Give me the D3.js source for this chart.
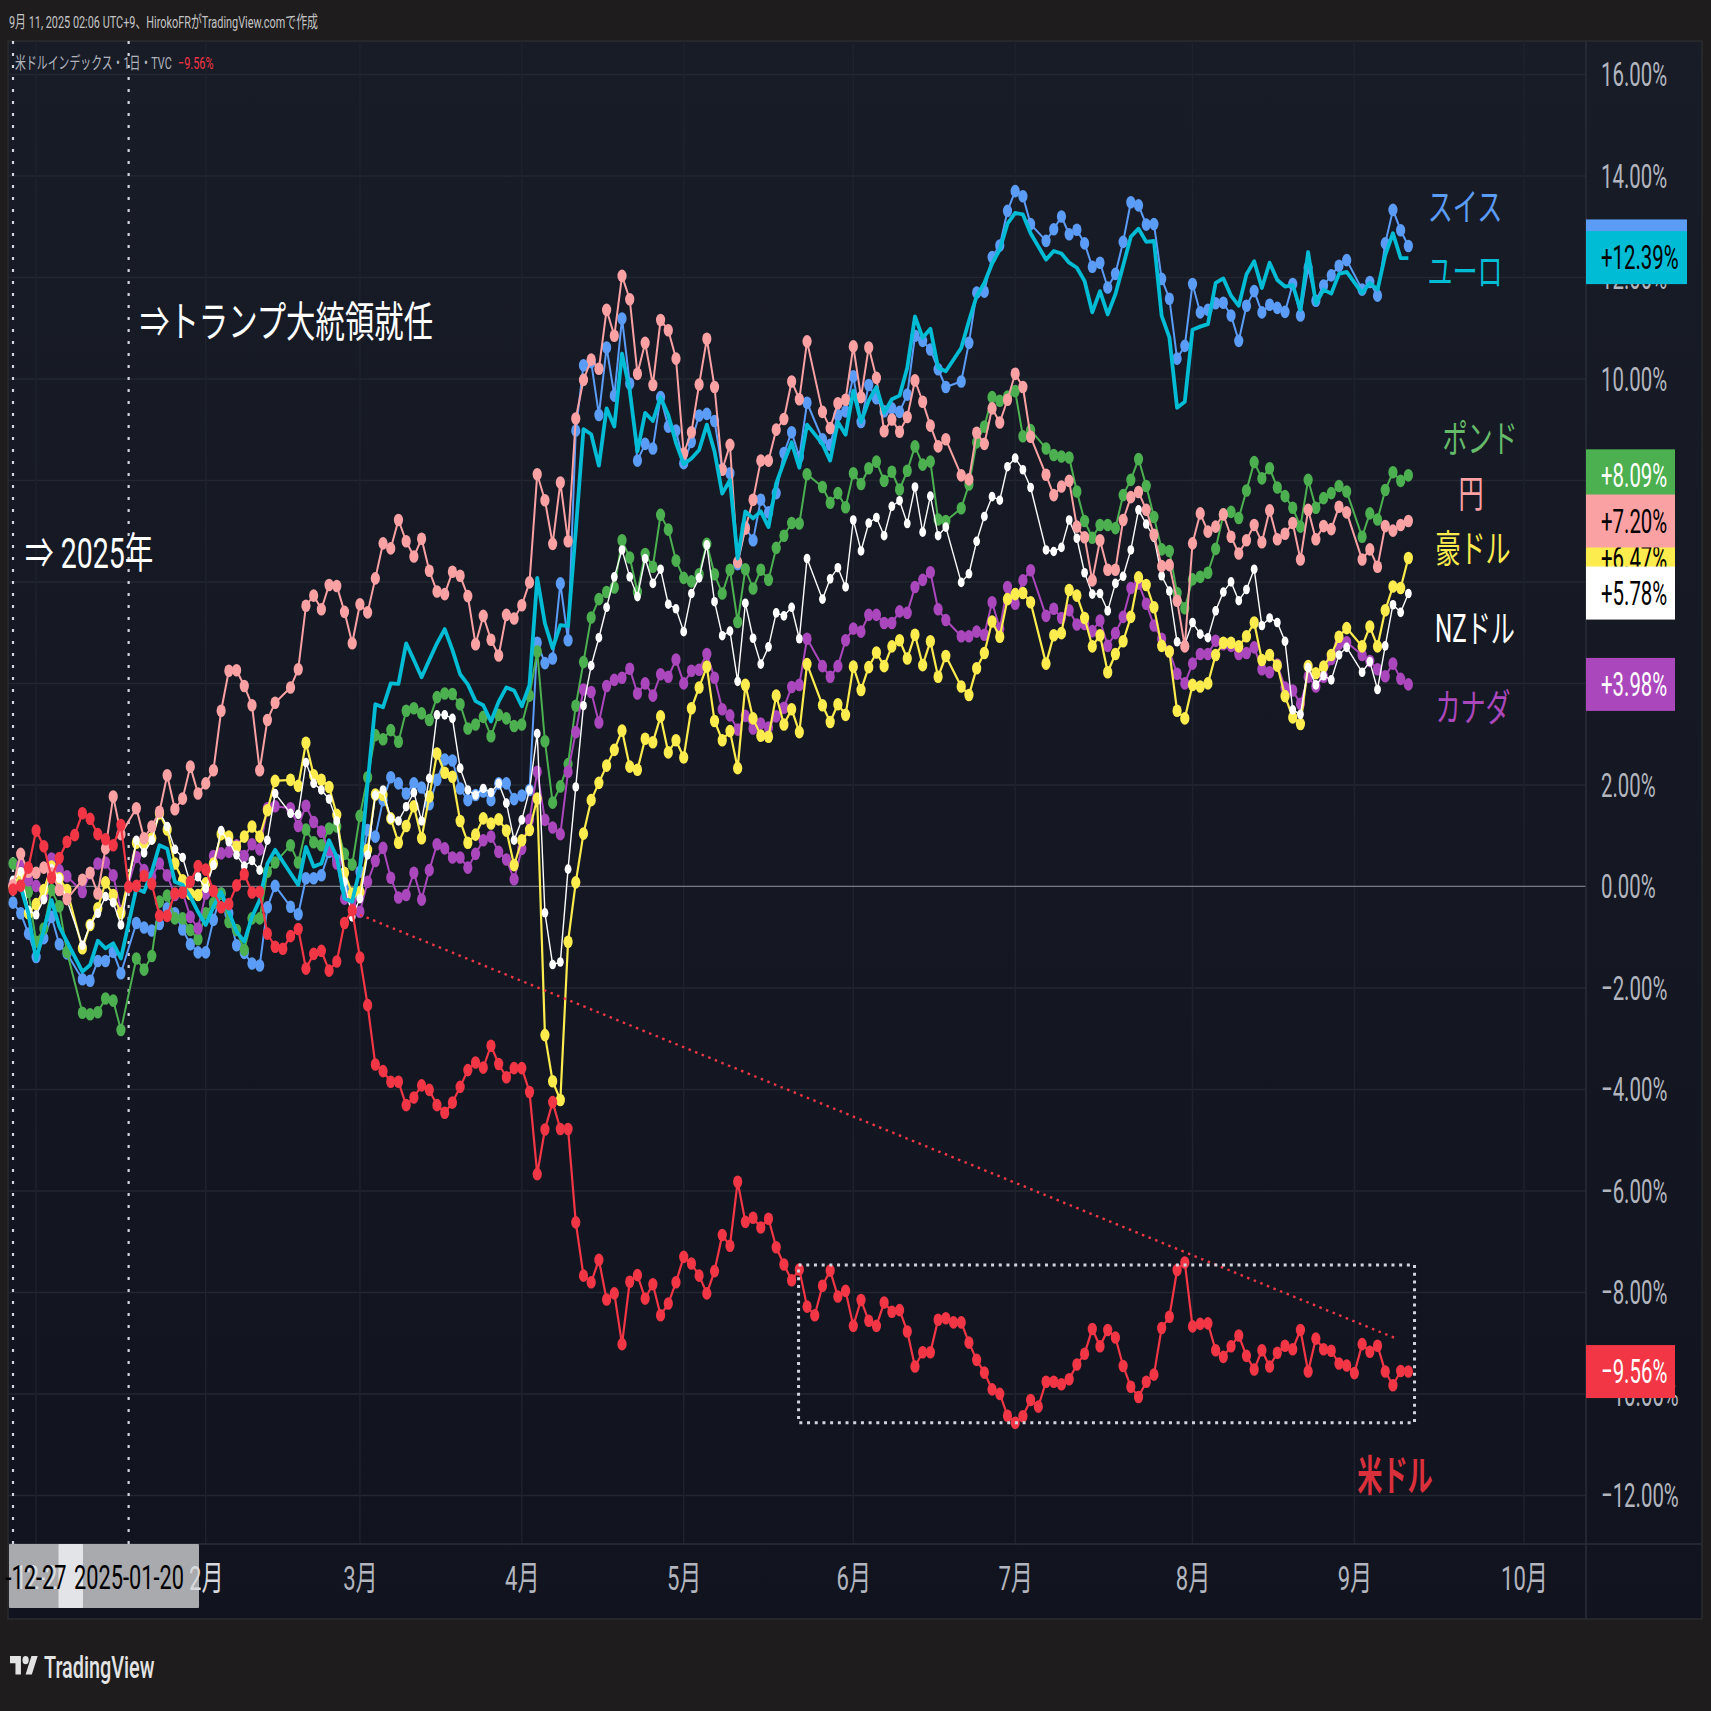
<!DOCTYPE html>
<html>
<head>
<meta charset="utf-8">
<script src="https://cdn.jsdelivr.net/npm/d3@7"></script>
<style>
  body { margin: 0; background: #1e1c1d; }
  text { font-family: Roboto, "Noto Sans CJK JP", sans-serif; }
</style>
<title>米ドルインデックス</title>
</head>
<body>
<div id="chart"></div>
<script>
// percent change per trading day, null = no bar that day
var usd = [-0.06,0.01,0.37,1.10,0.79,0.17,0.56,0.88,1.01,1.44,
1.33,1.03,0.93,0.81,1.21,-0.01,0.01,0.21,0.05,-0.58,
-0.58,-0.14,-0.12,0.09,0.40,0.33,-0.09,-0.41,-0.35,0.02,
0.24,-0.12,-0.11,-0.93,-1.19,-1.23,-0.98,-0.84,-1.62,-1.33,
-1.27,-1.66,-1.48,-0.72,-0.47,-1.40,-2.34,-3.51,-3.64,-3.85,
-3.85,-4.31,-4.16,-3.92,-4.01,-4.31,-4.46,-4.26,-3.95,-3.62,
-3.47,-3.57,-3.14,-3.50,-3.76,-3.58,-3.58,-4.05,-5.67,-4.79,
-4.25,-4.78,-4.78,-6.62,-7.67,-7.80,-7.36,-8.14,-8.02,-9.02,
-7.79,-7.66,-8.12,-7.84,-8.45,-8.22,-7.80,-7.30,-7.43,-7.67,
-8.02,-7.58,-6.87,-7.08,-5.82,-6.61,-6.53,-6.72,-6.55,-7.11,
-7.45,-7.76,-7.55,-8.28,-8.45,-7.87,-7.57,-8.08,-7.97,-8.66,
-8.15,-8.56,-8.66,-8.20,-8.38,-8.35,-8.77,-9.46,-9.18,-9.18,
-8.54,-8.51,-8.59,-8.59,-8.99,-9.33,-9.58,-9.91,-10.00,-10.43,
-10.57,-10.44,-10.12,-10.25,-9.76,-9.76,-9.81,-9.71,-9.42,-9.21,
-8.72,-9.06,-8.74,-8.89,-9.45,-9.86,-10.06,-9.76,-9.62,-8.70,
-8.48,-7.56,-7.41,-8.67,-8.62,-8.61,-9.14,-9.27,-9.06,-8.85,
-9.25,-9.52,-9.14,-9.46,-9.19,-9.05,-9.12,-8.74,-9.56,-8.91,
-9.12,-9.15,-9.40,-9.44,-9.59,-9.02,-9.17,-9.05,-9.56,-9.83,
-9.55,-9.56];

var jpy = [0.02,0.64,0.29,0.27,0.37,0.26,-0.07,-0.25,null,0.13,
0.27,-0.14,0.75,1.77,1.03,null,1.54,0.95,1.18,1.47,
2.19,1.52,1.73,2.36,1.83,2.03,2.29,3.46,4.25,4.26,
3.95,3.57,2.29,3.28,3.62,null,3.92,4.28,5.53,5.73,
5.46,5.94,5.92,5.41,4.79,5.56,5.40,6.07,6.76,6.66,
7.22,6.80,6.50,6.85,6.22,5.81,5.76,6.20,6.12,5.72,
4.77,5.33,4.86,4.55,5.35,5.28,5.54,5.99,8.12,7.61,
6.75,7.96,6.80,9.22,9.98,10.38,10.20,11.36,10.85,12.03,
11.57,10.10,10.71,9.88,11.16,10.96,10.40,8.53,8.95,9.89,
10.79,9.84,8.21,8.70,6.39,7.05,7.62,8.39,8.39,9.00,
9.21,9.95,9.60,10.74,null,9.35,9.03,9.52,9.59,10.64,
9.64,10.62,10.02,8.97,9.20,8.96,9.25,9.97,9.55,9.08,
8.67,8.81,null,8.10,8.02,8.94,8.72,9.42,9.14,9.59,
10.10,9.84,8.86,null,8.11,7.71,7.88,7.99,7.09,6.88,
6.03,6.82,6.24,6.24,7.22,7.67,7.77,7.42,6.93,6.31,
6.33,5.63,4.73,6.76,7.35,6.99,7.09,7.33,6.89,6.56,
6.82,7.12,6.78,7.41,6.84,6.95,7.16,6.44,7.42,6.84,
7.10,7.04,7.48,7.37,null,6.44,6.64,6.30,7.10,7.01,
7.12,7.20];

var chf = [-0.32,-0.53,-0.93,-1.39,-1.02,-0.60,-1.14,-1.32,null,-1.83,
-1.86,-1.47,-1.47,-1.29,-1.71,null,-0.72,-0.81,-0.87,-0.74,
-0.43,-0.53,-0.85,-1.14,-1.30,-1.30,-0.66,-0.14,-0.53,-1.16,
-1.31,-1.52,-1.56,-0.41,0.01,null,-0.40,-0.55,0.16,0.16,
0.22,0.68,0.52,-0.01,-0.20,0.29,1.11,0.98,1.70,2.15,
2.03,1.83,2.03,1.95,1.62,2.10,2.50,2.48,1.93,1.70,
1.80,1.87,1.70,2.03,2.03,1.72,1.79,1.90,4.80,4.40,
4.49,5.97,4.85,8.98,10.27,10.33,9.29,10.62,9.67,11.19,
9.91,8.39,8.72,8.63,9.64,9.06,8.98,8.34,8.76,9.28,
9.31,9.17,8.22,8.14,6.35,7.08,6.82,7.62,7.37,7.75,
8.54,8.95,8.46,9.53,null,8.81,8.70,9.29,9.36,10.05,
9.15,9.88,9.62,9.36,9.42,9.35,9.69,10.85,10.75,10.58,
10.19,9.84,null,9.95,10.71,11.70,11.72,12.40,12.63,13.31,
13.70,13.60,13.05,null,12.72,12.95,13.20,12.85,12.94,12.67,
12.21,12.29,11.80,12.07,12.70,13.48,13.42,13.04,13.05,11.97,
11.58,10.40,10.65,11.87,11.31,11.36,11.49,11.50,11.25,10.75,
11.44,11.73,11.31,11.46,11.40,11.32,11.87,11.25,12.19,11.54,
11.84,12.04,12.23,12.34,null,11.76,11.91,11.64,12.67,13.33,
12.93,12.62];

var eur = [-0.05,-0.01,-0.53,-1.45,-0.86,-0.27,-0.79,-1.09,null,-1.68,
-1.55,-1.07,-1.22,-1.12,-1.42,null,-0.04,-0.11,0.29,0.81,
0.74,0.09,0.03,-0.20,-0.50,-0.76,-0.40,-0.11,-0.50,-0.89,
-1.09,-0.60,-0.27,0.45,0.72,null,0.26,0.03,0.78,0.39,
0.45,0.91,0.58,-0.24,-0.30,0.35,2.03,3.59,3.53,4.00,
3.99,4.79,4.46,4.12,4.46,4.79,5.07,4.66,4.18,3.98,
3.65,3.57,3.25,3.64,3.92,3.86,3.55,3.97,6.08,5.18,
4.69,5.15,5.13,7.01,9.01,8.91,8.29,9.42,9.06,10.50,
9.77,8.57,9.33,9.17,9.64,9.29,8.74,8.32,8.43,8.60,
9.10,8.57,7.74,8.01,6.46,7.39,7.25,7.39,7.08,7.94,
8.36,8.75,8.25,9.10,null,8.72,8.39,9.15,8.90,9.77,
9.15,9.57,9.84,9.33,9.60,9.67,10.22,11.23,10.81,10.99,
10.22,10.15,null,10.61,11.14,11.63,11.89,12.27,12.55,13.06,
13.27,13.24,12.87,null,12.35,12.52,12.47,12.29,12.19,11.93,
11.31,11.73,11.27,11.67,12.23,12.80,12.96,12.70,12.72,11.24,
10.82,9.43,9.55,10.97,11.03,11.08,11.89,11.98,11.64,11.44,
12.06,12.32,11.79,12.29,11.95,11.82,11.85,11.36,12.50,11.48,
11.76,11.68,12.07,12.11,null,11.69,11.89,11.76,12.44,12.87,
12.38,12.38];

var gbp = [0.45,0.19,-0.11,-1.09,-0.83,-0.07,-0.39,-1.29,null,-2.49,
-2.52,-2.48,-2.21,-2.25,-2.83,null,-1.42,-1.64,-1.37,-0.30,
-0.18,-0.63,-0.63,-0.86,-1.04,-0.53,-0.33,-0.14,-0.70,-0.86,
-1.25,-0.63,-0.63,0.29,0.47,null,0.81,0.47,1.12,0.87,
0.81,1.14,1.18,0.64,0.43,1.39,2.15,2.98,2.90,3.08,
2.85,3.46,3.51,3.41,3.28,3.73,3.80,3.79,3.59,3.11,
3.19,3.34,2.96,3.38,3.31,3.16,3.19,3.76,4.63,2.86,
1.65,1.97,2.41,3.56,4.42,5.30,5.66,5.80,5.89,6.82,
6.48,5.80,6.55,6.30,7.32,7.03,6.42,6.08,6.01,6.15,
6.75,6.15,5.77,6.24,5.21,6.25,5.87,6.24,6.04,6.67,
6.91,7.16,7.15,8.12,null,7.87,7.56,7.75,7.47,8.14,
7.93,8.24,8.37,7.99,8.17,7.82,8.19,8.67,8.31,8.37,
7.23,7.20,null,7.45,7.92,8.75,9.06,9.64,9.57,9.65,
9.76,8.87,8.99,null,8.63,8.50,8.47,8.45,7.78,7.20,
6.87,7.12,7.12,7.06,7.71,8.01,8.42,7.89,7.28,6.64,
6.61,5.78,5.48,6.05,6.10,6.18,6.65,7.33,7.38,7.26,
7.80,8.36,8.04,8.24,7.86,7.69,7.46,7.09,8.01,7.46,
7.65,7.75,7.89,7.78,null,6.89,7.35,7.23,7.81,8.16,
7.99,8.10];

var aud = [-0.01,0.26,-0.53,-0.35,-0.07,0.39,0.16,-0.07,null,-1.22,
-0.76,-0.43,0.08,-0.17,-0.53,null,0.86,0.85,0.95,1.44,
1.12,0.45,0.12,-0.15,-0.17,0.06,0.45,1.03,0.98,0.78,
0.98,1.18,0.98,1.50,2.08,null,2.10,1.98,2.83,2.19,
2.10,1.96,1.41,0.27,-0.14,-0.11,0.72,1.81,1.80,1.34,
0.86,1.19,1.58,0.95,1.77,2.62,2.24,2.16,1.29,0.86,
1.02,1.34,1.24,1.32,1.10,0.42,0.91,1.11,1.73,-2.93,
-3.84,-4.21,-1.09,0.08,1.04,1.70,2.04,2.38,2.69,3.07,
2.36,2.30,2.91,2.84,3.35,2.64,2.88,2.54,3.51,3.92,
4.33,3.26,2.88,3.06,2.33,3.97,3.31,2.97,2.95,3.76,
3.19,3.49,3.04,4.38,null,3.57,3.24,3.59,3.38,4.33,
3.87,4.32,4.61,4.34,4.73,4.85,4.49,4.96,4.36,4.83,
4.13,4.54,null,3.94,3.77,4.30,4.60,5.22,4.92,5.66,
5.76,5.78,5.60,null,4.39,4.95,4.99,5.84,5.73,5.29,
4.73,4.95,4.22,4.58,4.83,5.31,6.09,5.94,5.50,4.74,
4.63,3.46,3.31,3.97,3.94,4.00,4.56,4.80,4.80,4.73,
4.93,5.20,4.46,4.56,4.35,3.75,3.33,3.20,4.34,4.20,
4.33,4.56,4.92,5.09,null,4.73,5.12,4.73,5.44,5.91,
5.88,6.47];

var nzd = [0.12,0.29,-0.47,-0.56,-0.26,0.35,0.16,-0.27,null,-1.16,
-0.76,-0.53,-0.20,-0.32,-0.76,null,0.91,0.66,0.91,1.47,
1.18,0.73,0.57,0.06,0.19,-0.04,0.42,1.10,0.88,0.62,
0.40,0.51,0.32,0.91,1.83,null,1.44,1.42,2.44,2.03,
1.90,1.72,1.29,0.09,-0.60,-0.24,0.62,1.80,1.90,1.34,
1.29,1.57,1.85,1.29,2.13,3.38,3.38,3.31,2.33,1.90,
1.80,1.93,1.85,2.03,1.64,0.91,1.31,1.90,3.01,-0.52,
-1.54,-1.49,0.34,1.96,3.56,4.35,4.90,5.50,6.10,6.63,
6.10,5.71,6.46,5.97,6.25,5.56,5.47,5.02,5.77,6.08,
6.73,5.61,4.94,5.03,4.04,5.58,4.89,4.38,4.72,5.39,
5.33,5.50,4.88,6.46,null,5.66,6.06,6.28,5.90,7.22,
6.61,7.16,7.27,6.91,7.49,7.60,7.15,7.87,6.98,7.69,
6.91,7.08,null,5.99,6.16,6.80,7.29,7.68,7.61,8.27,
8.44,8.21,7.86,null,6.63,6.60,6.68,7.22,6.86,6.18,
5.76,5.77,5.43,5.97,6.11,6.63,7.42,7.14,6.88,6.12,
5.82,4.82,4.77,5.20,4.97,4.90,5.43,5.80,6.00,5.63,
5.85,6.25,5.14,5.29,5.20,4.83,3.48,3.39,4.31,3.97,
4.15,4.07,4.56,4.71,null,4.22,4.43,3.88,4.74,5.55,
5.40,5.77];

var cad = [0.03,0.42,0.12,0.01,-0.20,0.55,0.32,0.20,null,-0.11,
0.26,0.45,0.47,0.22,-0.49,null,0.58,0.32,0.19,0.45,
0.22,-0.17,-0.12,-0.60,-0.83,-0.14,0.60,0.65,0.68,0.81,
0.60,0.83,0.73,1.54,1.58,null,1.54,1.19,1.59,1.27,
1.08,0.72,0.45,-0.24,-0.27,-0.50,0.09,0.50,0.76,0.17,
-0.22,-0.17,0.27,-0.26,0.32,0.83,0.75,0.57,0.57,0.37,
0.64,0.91,0.98,0.68,0.53,0.14,0.74,1.31,2.26,1.31,
1.16,1.03,2.26,3.04,3.88,3.83,3.23,3.95,4.07,4.11,
4.29,3.80,4.00,3.76,4.18,4.13,4.47,4.00,4.25,4.27,
4.58,4.11,3.49,3.37,3.09,3.36,3.11,3.21,3.13,3.35,
3.52,3.93,3.97,4.88,null,4.34,4.13,4.34,4.85,5.08,
5.02,5.35,5.35,5.19,5.19,5.42,5.39,5.90,6.04,6.19,
5.46,5.25,null,4.93,4.93,5.02,4.96,5.60,5.08,5.90,
5.57,6.03,6.23,null,5.33,5.47,5.29,5.44,5.16,5.17,
5.03,5.24,4.74,4.99,5.31,5.88,5.97,5.57,5.14,4.88,
4.63,4.19,4.00,4.39,4.58,4.58,4.84,4.77,4.74,4.58,
4.60,4.71,4.28,4.22,4.37,3.92,3.86,3.60,4.13,3.94,
4.13,4.48,4.78,4.81,null,4.56,4.44,4.28,4.14,4.39,
4.09,3.98];

var yTicks = [16,14,12,10,8,6,4,2,0,-2,-4,-6,-8,-10,-12];
var monthIdx = [25,45,66,87,109,130,153,174,196];
var monthLabels = ["2月","3月","4月","5月","6月","7月","8月","9月","10月"];
var yearIdx = 3;
var markerIdx = [0,15];
var trendIdx = [45,179.6];
var trendVal = [-0.56,-8.92];
var boxIdx = [101.9,181.8];
var boxVal = [-7.46,-10.57];

// badges, in drawing order
var badgeNames = ["chf","eur","aud","gbp","jpy","nzd","cad","usd"];
var badgeVals = [12.62,12.39,6.47,8.09,7.20,5.78,3.98,-9.56];
var badgeText = ["+12.62%","+12.39%","+6.47%","+8.09%","+7.20%","+5.78%","+3.98%","−9.56%"];
var badgeInk = ["#000","#000","#000","#fff","#000","#000","#fff","#fff"];
var badgeW = [101,101,89,89,89,89,89,89];

var colors = {
    chf: "#5b9cf6", eur: "#00bcd4", gbp: "#4caf50", jpy: "#faa1a4",
    aud: "#fcec4e", nzd: "#ffffff", cad: "#ab47bc", usd: "#f23645"
};

// bottom to top
var seriesList = [
    {name: "chf", vals: chf, w: 2,   rx: 4.6, ry: 6.3},
    {name: "gbp", vals: gbp, w: 2,   rx: 4.6, ry: 6.3},
    {name: "cad", vals: cad, w: 2,   rx: 4.6, ry: 6.3},
    {name: "aud", vals: aud, w: 2.2, rx: 4.6, ry: 6.3},
    {name: "nzd", vals: nzd, w: 1.4, rx: 3.4, ry: 4.8},
    {name: "jpy", vals: jpy, w: 2,   rx: 4.6, ry: 6.3},
    {name: "eur", vals: eur, w: 3.8, rx: 0, ry: 0},
    {name: "usd", vals: usd, w: 2.2, rx: 4.6, ry: 6.3}
];

var W = 1711, H = 1711;
var paneL = 8, paneT = 41, paneR = 1702, paneB = 1619, axisX = 1586, axisY = 1544;
var SX = 0.66;     // the picture is squeezed sideways, text with it
var SX_NUM = 0.6;  // price labels
var SX_DATE = 0.64;

var x = d3.scaleLinear().domain([0,196]).range([13,1524]);
var y = d3.scaleLinear().domain([0,16]).range([886.4,74.4]);

var svg = d3.select("#chart").append("svg")
    .attr("width", W).attr("height", H).style("display","block");

var defs = svg.append("defs");
var grad = defs.append("linearGradient").attr("id","paneBg").attr("x1",0).attr("x2",0).attr("y1",0).attr("y2",1);
grad.append("stop").attr("offset","0%").attr("stop-color","#181c27");
grad.append("stop").attr("offset","100%").attr("stop-color","#11141f");

svg.append("rect").attr("width",W).attr("height",H).attr("fill","#1e1c1d");
svg.append("rect").attr("x",paneL).attr("y",paneT)
    .attr("width",paneR-paneL).attr("height",paneB-paneT)
    .attr("fill","url(#paneBg)").attr("stroke","#2a2b2e").attr("stroke-width",1.5);

function label(px, py, str, color, size, anchor, weight, sx) {
    return svg.append("text")
        .attr("transform","translate("+px+","+py+") scale("+(sx||SX)+",1)")
        .attr("text-anchor",anchor||"start")
        .attr("dominant-baseline","central")
        .attr("fill",color)
        .attr("font-size",size)
        .attr("font-weight",weight||400)
        .text(str);
}

// grid
svg.append("g").selectAll("line").data(yTicks.filter(function(d){return d!==0;})).join("line")
    .attr("x1",paneL).attr("x2",axisX).attr("y1",d=>y(d)).attr("y2",d=>y(d))
    .attr("stroke","#23272f").attr("stroke-width",1.5);
svg.append("g").selectAll("line").data([yearIdx].concat(monthIdx)).join("line")
    .attr("x1",d=>x(d)).attr("x2",d=>x(d)).attr("y1",paneT).attr("y2",axisY)
    .attr("stroke","#1e222d").attr("stroke-width",1.5);
svg.append("line").attr("x1",paneL).attr("x2",axisX).attr("y1",y(0)).attr("y2",y(0))
    .attr("stroke","#787b86").attr("stroke-width",1.2);

svg.append("line").attr("x1",axisX).attr("x2",axisX).attr("y1",paneT).attr("y2",paneB)
    .attr("stroke","#2a2e39").attr("stroke-width",1.5);
svg.append("line").attr("x1",paneL).attr("x2",paneR).attr("y1",axisY).attr("y2",axisY)
    .attr("stroke","#2a2e39").attr("stroke-width",1.5);

// vertical markers
svg.append("g").selectAll("line").data(markerIdx).join("line")
    .attr("x1",d=>x(d)).attr("x2",d=>x(d)).attr("y1",paneT).attr("y2",axisY)
    .attr("stroke","#d1d4dc").attr("stroke-width",2.2).attr("stroke-dasharray","3 9");

// series
var line = d3.line().x(d=>x(d.i)).y(d=>y(d.v));
seriesList.forEach(function(s){
    var pts = [];
    s.vals.forEach(function(v,i){ if (v !== null) pts.push({i:i,v:v}); });
    svg.append("path").datum(pts).attr("d",line)
        .attr("fill","none").attr("stroke",colors[s.name])
        .attr("stroke-width",s.w).attr("stroke-linejoin","round");
    if (s.rx > 0) {
        svg.append("g").selectAll("ellipse").data(pts).join("ellipse")
            .attr("cx",d=>x(d.i)).attr("cy",d=>y(d.v))
            .attr("rx",s.rx).attr("ry",s.ry).attr("fill",colors[s.name]);
    }
});

// trend line and box
var trendPts = trendIdx.map(function(d,k){ return {i:d,v:trendVal[k]}; });
svg.append("path").datum(trendPts).attr("d",line)
    .attr("fill","none").attr("stroke",colors.usd).attr("stroke-width",2.4).attr("stroke-dasharray","2.5 4.6");
var boxPts = [
    {i:boxIdx[0],v:boxVal[0]},{i:boxIdx[1],v:boxVal[0]},
    {i:boxIdx[1],v:boxVal[1]},{i:boxIdx[0],v:boxVal[1]},{i:boxIdx[0],v:boxVal[0]}
];
svg.append("path").datum(boxPts).attr("d",line)
    .attr("fill","none").attr("stroke","#d1d4dc").attr("stroke-width",3).attr("stroke-dasharray","3 4.7");

// price axis
var yAxis = d3.axisRight(y).tickValues(yTicks).tickSize(0)
    .tickFormat(function(d){ return (d<0?"−":"")+Math.abs(d).toFixed(2)+"%"; });
var gy = svg.append("g").attr("transform","translate(1601,0)").call(yAxis);
gy.select(".domain").remove();
gy.selectAll("text").attr("x",0).attr("dy",null).attr("dominant-baseline","central")
    .attr("transform","scale("+SX_NUM+",1)")
    .attr("fill","#b2b5be").attr("font-size",34)
    .style("font-family",'Roboto, "Noto Sans CJK JP", sans-serif');

// date highlight over the time axis
svg.append("rect").attr("x",9).attr("y",axisY).attr("width",190).attr("height",64).attr("fill","#a8aaae").attr("rx",1);
svg.append("rect").attr("x",58.5).attr("y",axisY).attr("width",24.5).attr("height",64).attr("fill","#e3e4e7").attr("rx",1);

// time axis
var xAxis = d3.axisBottom(x).tickValues(monthIdx).tickSize(0)
    .tickFormat(function(d,k){ return monthLabels[k]; });
var gx = svg.append("g").attr("transform","translate(0,1578)").call(xAxis);
gx.select(".domain").remove();
gx.selectAll("text").attr("y",0).attr("dy",null).attr("dominant-baseline","central")
    .attr("transform","scale(0.65,1)")
    .attr("fill","#b2b5be").attr("font-size",34)
    .style("font-family",'Roboto, "Noto Sans CJK JP", sans-serif');
gx.selectAll("text").filter(function(d){ return d === monthIdx[0]; }).attr("fill","#d8d9dc");

label(42,1578,"12-27","#e6e6e8",34,"middle",400,SX_DATE).attr("opacity",0.85);
label(36,1578,"-12-27","#000",34,"middle",400,SX_DATE);
label(129,1578,"2025-01-20","#000",34,"middle",400,SX_DATE);

// price badges
badgeNames.forEach(function(n,k){
    svg.append("rect").attr("x",axisX).attr("y",y(badgeVals[k])-26.5)
        .attr("width",badgeW[k]).attr("height",53).attr("fill",colors[n]);
    label(1601,y(badgeVals[k]),badgeText[k],badgeInk[k],34,"start",400,SX_NUM);
});

// currency labels
label(1465,207,"スイス",colors.chf,38,"middle");
label(1465,272,"ユーロ",colors.eur,38,"middle");
label(1480,439,"ポンド","#66bb6a",38,"middle");
label(1471,494,"円",colors.jpy,38,"middle");
label(1473,549,"豪ドル",colors.aud,38,"middle");
label(1475,629,"NZドル","#ffffff",38,"middle",400,0.635);
label(1473,708,"カナダ",colors.cad,38,"middle");
label(1395,1476,"米ドル","#d9303c",42,"middle",700,0.6);

// notes
label(140,323,"⇒トランプ大統領就任","#ffffff",42,"start",400,0.7);
label(25,554,"⇒ 2025年","#ffffff",42,"start",400,0.68);

// header and symbol line
label(9,22,"9月 11, 2025 02:06 UTC+9、HirokoFRがTradingView.comで作成","#c4c4c4",17,"start",400,0.64);
label(15,63,"米ドルインデックス・1日・TVC","#b2b5be",17,"start",400,0.64);
label(178,63,"−9.56%",colors.usd,17,"start",400,0.64);

// logo
var logo = svg.append("g").attr("transform","translate(10,1652) scale(0.78,1.02)").attr("fill","#e3e3e3");
logo.append("path").attr("d","M14 22H7V11H0V4h14v18zM28 22h-8l7.5-18h8L28 22z");
logo.append("circle").attr("cx",20).attr("cy",8).attr("r",4);
label(44,1667,"TradingView","#e3e3e3",31,"start",500,0.64);
</script>
</body>
</html>
